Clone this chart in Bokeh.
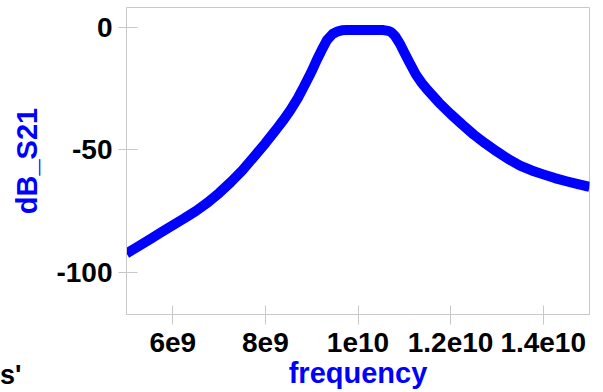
from bokeh.plotting import figure
from bokeh.models import FixedTicker, Range1d, Div
from bokeh.layouts import column
from bokeh.embed import file_html
from bokeh.resources import INLINE

# Data (frequency in GHz -> Hz, dB_S21)
freq_ghz = [5.0, 5.25, 5.5, 5.75, 6.0, 6.25, 6.5, 6.75, 7.0, 7.25, 7.5, 7.75,
            8.0, 8.18, 8.25, 8.4, 8.54, 8.7, 8.83, 9.0, 9.11, 9.22, 9.33, 9.45,
            9.55, 9.65, 9.76, 10.0, 10.25, 10.55, 10.65, 10.72, 10.8, 10.9,
            11.0, 11.1, 11.25, 11.375, 11.5, 11.75, 12.0, 12.25, 12.5, 12.75,
            13.0, 13.25, 13.5, 13.75, 14.0, 14.25, 14.5, 14.75, 15.0]
db_s21 = [-92.2, -89.4, -86.5, -83.6, -80.7, -77.9, -74.9, -71.5, -67.6, -63.2,
          -58.4, -52.9, -47.3, -43.0, -41.3, -37.6, -33.8, -28.9, -24.3, -18.0,
          -13.4, -9.2, -5.3, -2.8, -1.8, -1.3, -1.2, -1.2, -1.2, -1.2, -1.5,
          -2.1, -3.6, -6.6, -10.3, -14.0, -19.3, -22.7, -25.6, -30.8, -35.4,
          -39.7, -43.8, -47.4, -50.7, -53.8, -56.4, -58.4, -60.0, -61.5, -62.8,
          -64.0, -65.1]
freq = [g * 1e9 for g in freq_ghz]

x_ticks = [6e9, 8e9, 1e10, 1.2e10, 1.4e10]
x_tick_labels = ["6e9", "8e9", "1e10", "1.2e10", "1.4e10"]
y_ticks = [0, -50, -100]
y_tick_labels = ["0", "-50", "-100"]

FONT = "Liberation Sans"
BLUE = "#0000ff"
GRAY = "#c8c8c8"

p = figure(width=603, height=392, output_backend="svg", toolbar_location=None,
           x_range=Range1d(5e9, 1.5e10), y_range=Range1d(-117.1, 8.0),
           min_border_left=126, min_border_right=14, min_border_top=7,
           min_border_bottom=78)

p.line(freq, db_s21, line_color=BLUE, line_width=10, line_join="round")

p.grid.visible = False
p.outline_line_color = GRAY
p.outline_line_width = 1

for ax in (p.xaxis[0], p.yaxis[0]):
    ax.axis_line_color = GRAY
    ax.major_tick_line_color = GRAY
    ax.minor_tick_line_color = None
    ax.major_label_text_font = FONT
    ax.major_label_text_font_style = "bold"
    ax.major_label_text_font_size = "28px"
    ax.major_label_text_color = "black"
    ax.axis_label_text_font = FONT
    ax.axis_label_text_font_style = "bold"
    ax.axis_label_text_font_size = "29px"
    ax.axis_label_text_color = BLUE

p.xaxis.ticker = FixedTicker(ticks=x_ticks)
p.xaxis.major_label_overrides = dict(zip(x_ticks, x_tick_labels))
p.yaxis.ticker = FixedTicker(ticks=y_ticks)
p.yaxis.major_label_overrides = dict(zip(y_ticks, y_tick_labels))

p.xaxis.major_tick_in = 9
p.xaxis.major_tick_out = 10
p.yaxis.major_tick_in = 11
p.yaxis.major_tick_out = 8

p.xaxis.axis_label = "frequency"
p.yaxis.axis_label = "dB_S21"
p.xaxis.major_label_standoff = 8
p.xaxis.axis_label_standoff = 2
p.yaxis.major_label_standoff = 6
p.yaxis.axis_label_standoff = 10

# leftover text at the bottom-left corner, overlapping the figure's bottom edge
corner = Div(text="s'", width=40, height=27, margin=(-30, 0, 0, 0),
             styles={"font-family": FONT, "font-weight": "bold",
                     "font-size": "27px", "line-height": "27px",
                     "color": "black"})

layout = column(p, corner, spacing=0)

open("out.html", "w").write(file_html(layout, INLINE))
